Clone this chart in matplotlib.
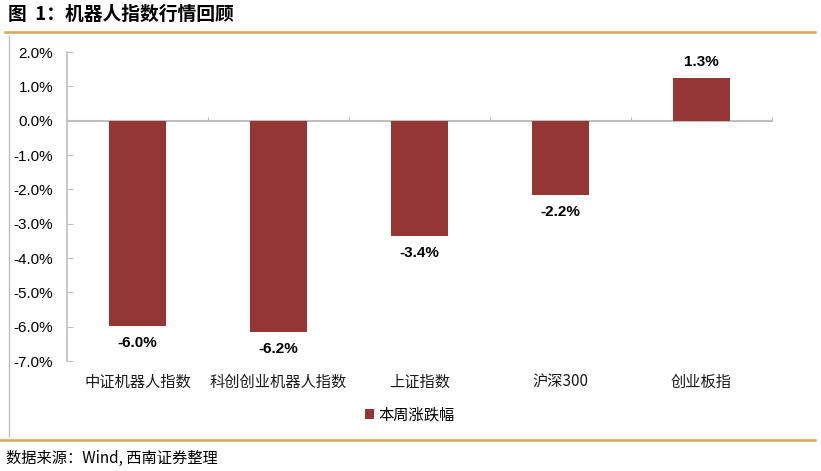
import matplotlib
matplotlib.use("Agg")
import matplotlib.pyplot as plt
from matplotlib.lines import Line2D
from matplotlib.patches import Patch
import numpy as np

plt.rcParams['font.family'] = ['Noto Sans CJK SC', 'DejaVu Sans']

categories = ["中证机器人指数", "科创创业机器人指数", "上证指数", "沪深300", "创业板指"]
values = [-5.98, -6.16, -3.36, -2.17, 1.25]
value_labels = ["-6.0%", "-6.2%", "-3.4%", "-2.2%", "1.3%"]
yticks = [2, 1, 0, -1, -2, -3, -4, -5, -6, -7]
ytick_labels = ["2.0%", "1.0%", "0.0%", "-1.0%", "-2.0%", "-3.0%", "-4.0%", "-5.0%", "-6.0%", "-7.0%"]
series_name = "本周涨跌幅"
title = "图  1：机器人指数行情回顾"
source = "数据来源：Wind, 西南证券整理"

bar_color = "#943634"
gold = "#D9A55A"
axis_gray = "#BFBFBF"

W, H = 821, 471
fig = plt.figure(figsize=(W / 100, H / 100), dpi=100)

ax = fig.add_axes([67 / W, 1 - 361 / H, (772 - 67) / W, (361 - 52) / H])
x = np.arange(len(categories))
ax.bar(x, values, width=0.40, color=bar_color, zorder=3)
ax.set_xlim(-0.5, len(categories) - 0.5)
ax.set_ylim(-7, 2)

ax.set_yticks(yticks)
ax.set_yticklabels(ytick_labels, family=['Liberation Sans', 'DejaVu Sans'], fontsize=11)
ax.tick_params(axis='y', direction='in', length=4, color=axis_gray, pad=10)

for s in ['top', 'right']:
    ax.spines[s].set_visible(False)
ax.spines['left'].set_color(axis_gray)
ax.spines['left'].set_linewidth(1.2)
ax.spines['bottom'].set_position(('data', 0))
ax.spines['bottom'].set_color(axis_gray)
ax.spines['bottom'].set_linewidth(1.5)
ax.set_xticks(np.arange(len(categories) + 1) - 0.5)
ax.set_xticklabels([])
ax.tick_params(axis='x', direction='in', length=3, color=axis_gray)

sec = ax.secondary_xaxis(0)
sec.set_xticks(x)
sec.set_xticklabels(categories, fontsize=11, color="#1a1a1a")
sec.tick_params(length=0, pad=9)
sec.spines['bottom'].set_visible(False)

for xi, v, lab in zip(x, values, value_labels):
    if v < 0:
        ax.text(xi, v - 0.3, lab, ha='center', va='top', fontsize=11, fontweight='bold',
                family=['Liberation Sans', 'DejaVu Sans'])
    else:
        ax.text(xi, v + 0.25, lab, ha='center', va='bottom', fontsize=11, fontweight='bold',
                family=['Liberation Sans', 'DejaVu Sans'])

handles = [Patch(facecolor=bar_color, edgecolor='none')]
fig.legend(handles, [series_name], loc='center', bbox_to_anchor=(410 / W, 1 - 415 / H),
           frameon=False, fontsize=11, handlelength=0.6, handleheight=0.6, handletextpad=0.3)

fig.text(8 / W, 1 - 14 / H, title, fontsize=13.5, fontweight='bold', ha='left', va='center')
fig.add_artist(Line2D([5 / W, 815 / W], [1 - 32 / H, 1 - 32 / H], color=gold, lw=1.8))
fig.add_artist(Line2D([9 / W, 9 / W], [1 - 36 / H, 1 - 436 / H], color=axis_gray, lw=1))
fig.add_artist(Line2D([0 / W, 815 / W], [1 - 440 / H, 1 - 440 / H], color=gold, lw=1.8))
fig.text(6 / W, 1 - 458 / H, source, fontsize=11, style='italic', ha='left', va='center')

fig.savefig("out.png", dpi=100)
